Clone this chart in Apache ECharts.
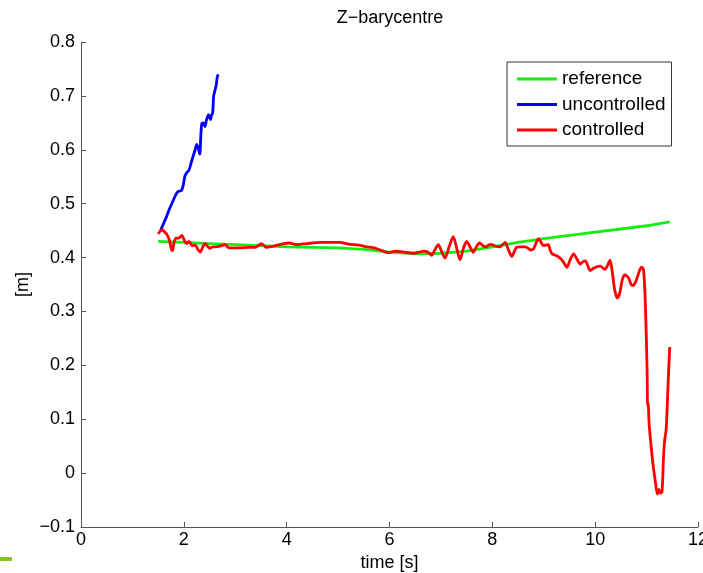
<!DOCTYPE html>
<html>
<head>
<meta charset="utf-8">
<script src="https://cdn.jsdelivr.net/npm/echarts@6/dist/echarts.min.js"></script>
<style>
html,body{margin:0;padding:0;background:#fff;}
#chart{width:703px;height:573px;}
</style>
</head>
<body>
<div id="chart"></div>
<script>
var xTicks = [0, 2, 4, 6, 8, 10, 12];
var yTicks = [-0.1, 0, 0.1, 0.2, 0.3, 0.4, 0.5, 0.6, 0.7, 0.8];

var refTime = [1.5, 2.0, 2.5, 3.0, 3.5, 4.0, 4.5, 5.0, 5.5, 6.0, 6.5, 7.0, 7.5, 8.0, 8.5, 9.0, 9.5, 10.0, 10.5, 11.0, 11.45];
var refZ    = [0.430, 0.428, 0.426, 0.424, 0.422, 0.420, 0.419, 0.418, 0.415, 0.410, 0.407, 0.408, 0.412, 0.420, 0.428, 0.435, 0.441, 0.447, 0.453, 0.459, 0.466];

var uncTime = [1.54, 1.60, 1.66, 1.72, 1.78, 1.84, 1.89, 1.95, 1.99, 2.02, 2.06, 2.10, 2.14, 2.18, 2.22, 2.25, 2.28, 2.31, 2.33, 2.35, 2.38, 2.41, 2.44, 2.48, 2.50, 2.52, 2.54, 2.56, 2.58, 2.60, 2.63, 2.65, 2.67];
var uncZ    = [0.448, 0.462, 0.475, 0.490, 0.503, 0.516, 0.523, 0.524, 0.535, 0.551, 0.558, 0.562, 0.575, 0.588, 0.600, 0.610, 0.603, 0.592, 0.625, 0.649, 0.650, 0.643, 0.655, 0.665, 0.660, 0.656, 0.665, 0.668, 0.700, 0.708, 0.720, 0.735, 0.740];

var ctlTime = [1.50, 1.55, 1.58, 1.63, 1.67, 1.72, 1.76, 1.78, 1.81, 1.85, 1.90, 1.96, 2.01, 2.05, 2.10, 2.16, 2.22, 2.28, 2.32, 2.37, 2.41, 2.46, 2.51, 2.56, 2.61, 2.70, 2.80, 2.87, 2.95, 3.09, 3.25, 3.39, 3.46, 3.51, 3.56, 3.61, 3.75, 3.94, 4.05, 4.20, 4.40, 4.65, 4.85, 5.04, 5.20, 5.40, 5.56, 5.70, 5.82, 5.98, 6.06, 6.14, 6.30, 6.47, 6.58, 6.66, 6.75, 6.82, 6.88, 6.95, 7.01, 7.08, 7.16, 7.24, 7.30, 7.37, 7.44, 7.50, 7.56, 7.63, 7.69, 7.75, 7.82, 7.88, 7.94, 7.99, 8.07, 8.15, 8.20, 8.25, 8.31, 8.38, 8.43, 8.47, 8.55, 8.64, 8.70, 8.74, 8.80, 8.85, 8.90, 8.95, 8.99, 9.04, 9.09, 9.12, 9.16, 9.24, 9.32, 9.38, 9.45, 9.51, 9.58, 9.64, 9.71, 9.76, 9.81, 9.86, 9.90, 9.97, 10.03, 10.10, 10.19, 10.24, 10.29, 10.33, 10.38, 10.43, 10.48, 10.53, 10.58, 10.65, 10.70, 10.74, 10.80, 10.86, 10.90, 10.94, 10.97, 10.99, 11.01, 11.02, 11.03, 11.05, 11.08, 11.13, 11.17, 11.21, 11.24, 11.27, 11.30, 11.33, 11.35, 11.38, 11.40, 11.42, 11.45];
var ctlZ    = [0.444, 0.450, 0.452, 0.447, 0.443, 0.432, 0.415, 0.413, 0.428, 0.436, 0.436, 0.441, 0.432, 0.426, 0.430, 0.422, 0.423, 0.414, 0.410, 0.420, 0.426, 0.421, 0.417, 0.420, 0.420, 0.421, 0.424, 0.418, 0.418, 0.418, 0.419, 0.419, 0.423, 0.426, 0.422, 0.419, 0.421, 0.426, 0.427, 0.424, 0.426, 0.428, 0.428, 0.428, 0.425, 0.423, 0.420, 0.418, 0.414, 0.409, 0.411, 0.412, 0.410, 0.408, 0.410, 0.412, 0.410, 0.404, 0.414, 0.424, 0.412, 0.399, 0.420, 0.439, 0.420, 0.396, 0.418, 0.430, 0.421, 0.410, 0.420, 0.427, 0.422, 0.420, 0.424, 0.424, 0.421, 0.420, 0.424, 0.428, 0.415, 0.402, 0.412, 0.419, 0.420, 0.420, 0.417, 0.414, 0.416, 0.427, 0.435, 0.428, 0.422, 0.423, 0.424, 0.415, 0.407, 0.404, 0.399, 0.392, 0.382, 0.395, 0.407, 0.398, 0.388, 0.392, 0.394, 0.384, 0.376, 0.380, 0.383, 0.384, 0.378, 0.385, 0.395, 0.375, 0.340, 0.325, 0.335, 0.360, 0.368, 0.362, 0.350, 0.348, 0.358, 0.375, 0.382, 0.378, 0.330, 0.270, 0.190, 0.125, 0.130, 0.090, 0.058, 0.012, -0.015, -0.039, -0.030, -0.037, -0.035, 0.030, 0.060, 0.080, 0.120, 0.170, 0.234];

var seriesNames = ['reference', 'uncontrolled', 'controlled'];
var seriesColors = ['#11ee11', '#0000ff', '#ff0000'];

function pairs(t, v) { return t.map(function (x, i) { return [x, v[i]]; }); }

var FONT = 'Liberation Sans, Arial, Helvetica, sans-serif';
var chart = echarts.init(document.getElementById('chart'), null, { renderer: 'canvas' });

var datasets = [pairs(refTime, refZ), pairs(uncTime, uncZ), pairs(ctlTime, ctlZ)];

chart.setOption({
  animation: false,
  backgroundColor: '#ffffff',
  title: {
    text: 'Z\u2212barycentre',
    left: 390, top: 9, textAlign: 'center', padding: 0,
    textStyle: { fontFamily: FONT, fontSize: 18, fontWeight: 'normal', color: '#000' }
  },
  grid: { left: 81, right: 5, top: 42, bottom: 46, containLabel: false, outerBoundsMode: 'none' },
  legend: {
    orient: 'vertical', left: 507, top: 62,
    data: seriesNames,
    icon: 'rect', itemWidth: 40, itemHeight: 3, itemGap: 5.5,
    padding: [7, 6, 6, 10],
    borderColor: '#333', borderWidth: 1, backgroundColor: '#fff',
    textStyle: { fontFamily: FONT, fontSize: 19, color: '#000', lineHeight: 20, padding: [0, 0, 0, 0] }
  },
  xAxis: {
    type: 'value', min: xTicks[0], max: xTicks[xTicks.length - 1], interval: 2,
    name: 'time [s]', nameLocation: 'middle', nameGap: 27,
    nameTextStyle: { fontFamily: FONT, fontSize: 18, color: '#000' },
    axisLine: { show: true, onZero: false, lineStyle: { color: '#555', width: 1 } },
    axisTick: { show: true, inside: true, length: 5, lineStyle: { color: '#555' } },
    axisLabel: { fontFamily: FONT, fontSize: 18, color: '#000', margin: 4 },
    splitLine: { show: false }
  },
  yAxis: {
    type: 'value', min: yTicks[0], max: yTicks[yTicks.length - 1], interval: 0.1,
    name: '[m]', nameLocation: 'middle', nameGap: 49, nameRotate: 90, nameMoveOverlap: false,
    nameTextStyle: { fontFamily: FONT, fontSize: 18, color: '#000' },
    axisLine: { show: true, onZero: false, lineStyle: { color: '#555', width: 1 } },
    axisTick: { show: true, inside: true, length: 5, lineStyle: { color: '#555' } },
    axisLabel: {
      fontFamily: FONT, fontSize: 18, color: '#000', margin: 6,
      formatter: function (v) { var r = Math.round(v * 10) / 10; return String(r).replace('-', '\u2212'); }
    },
    splitLine: { show: false }
  },
  graphic: [
    { type: 'rect', left: 0, top: 557, shape: { width: 12, height: 4 }, style: { fill: '#84c225' } }
  ],
  series: seriesNames.map(function (n, i) {
    return {
      name: n, type: 'line', data: datasets[i], showSymbol: false, symbol: 'none',
      smooth: i === 0 ? false : 0.25, color: seriesColors[i],
      lineStyle: { color: seriesColors[i], width: 2.8 }
    };
  })
});
</script>
</body>
</html>
